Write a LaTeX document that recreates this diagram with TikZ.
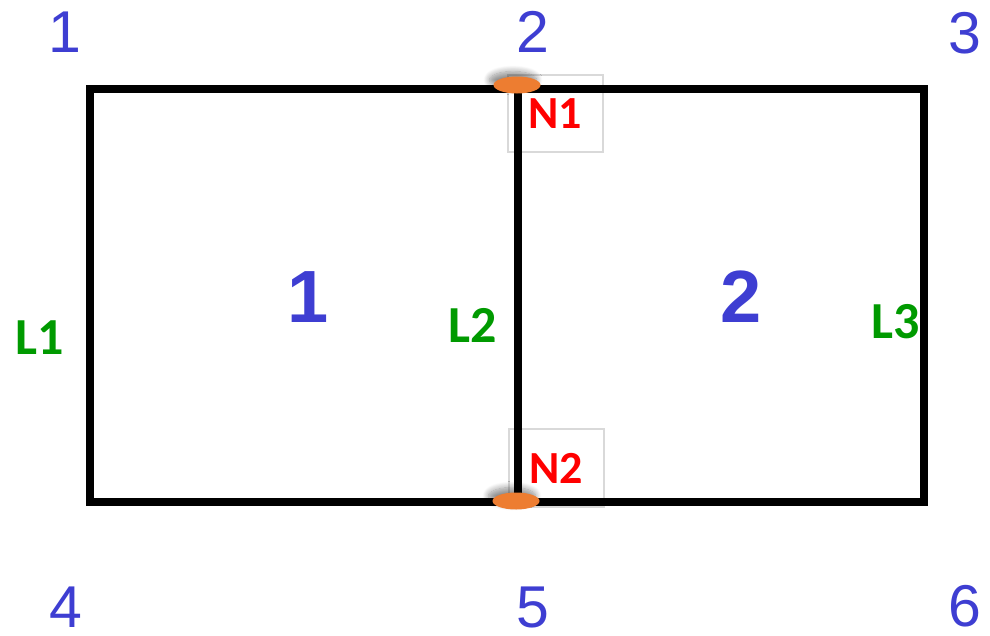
\documentclass[tikz,border=0pt]{standalone}
\usepackage{fontspec}
\usepackage{xcolor}
\usetikzlibrary{shapes.geometric,shadows.blur}
\setmainfont{Liberation Sans}
\newfontfamily\labfont{Carlito}
\definecolor{numblue}{HTML}{3E3ED2}
\definecolor{linegreen}{HTML}{009A00}
\definecolor{nodered}{HTML}{FF0000}
\definecolor{markorange}{HTML}{ED7D31}
\definecolor{boxgray}{HTML}{D9D9D9}

\begin{document}
\begin{tikzpicture}[
  x=1pt, y=-1pt,
  edge/.style={draw=black, line width=8pt, line cap=rect},
  cornernum/.style={inner sep=0pt, text=numblue, font=\fontsize{59}{61}\selectfont},
  regionnum/.style={inner sep=0pt, text=numblue, font=\fontsize{74}{76}\selectfont\bfseries},
  linelabel/.style={inner sep=0pt, text=linegreen, font=\labfont\fontsize{52}{54}\selectfont\bfseries},
  nodelabel/.style={inner sep=0pt, text=nodered, font=\labfont\fontsize{46}{48}\selectfont\bfseries},
  hitbox/.style={draw=boxgray, line width=1.2pt},
  marker/.style={ellipse, fill=markorange, minimum width=47pt, minimum height=17pt, inner sep=0pt,
    blur shadow={shadow xshift=-4pt, shadow yshift=5pt, shadow blur steps=10, shadow blur radius=6pt, shadow opacity=45}}
]
  \useasboundingbox (0,0) rectangle (990,635);

  % corners of the mesh
  \coordinate (c1) at (90,89);
  \coordinate (c2) at (518,89);
  \coordinate (c3) at (924,89);
  \coordinate (c4) at (90,502);
  \coordinate (c5) at (518,502);
  \coordinate (c6) at (924,502);

  % search boxes round the nodes
  \draw[hitbox] (508,75) rectangle (603,152);
  \draw[hitbox] (509,429) rectangle (604,507);

  % element edges
  \draw[edge] (c1) -- (c3) -- (c6) -- (c4) -- cycle;
  \draw[edge] (c2) -- (c5);

  % node markers
  \node[marker] (m1) at (517,85) {};
  \node[marker] (m2) at (516,501) {};

  % vertex numbers
  \node[cornernum] (v1) at (65,32) {1};
  \node[cornernum] (v2) at (533,32) {2};
  \node[cornernum] (v3) at (965,33) {3};
  \node[cornernum] (v4) at (66,607) {4};
  \node[cornernum] (v5) at (533,607) {5};
  \node[cornernum] (v6) at (965,606) {6};

  % element numbers
  \node[regionnum] (e1) at (308,297) {1};
  \node[regionnum] (e2) at (741,297) {2};

  % line labels
  \node[linelabel] (l1) at (40,338) {L1};
  \node[linelabel] (l2) at (473,325) {L2};
  \node[linelabel] (l3) at (896,322) {L3};

  % node labels
  \node[nodelabel] (n1) at (555,114) {N1};
  \node[nodelabel] (n2) at (556,468) {N2};
\end{tikzpicture}
\end{document}
